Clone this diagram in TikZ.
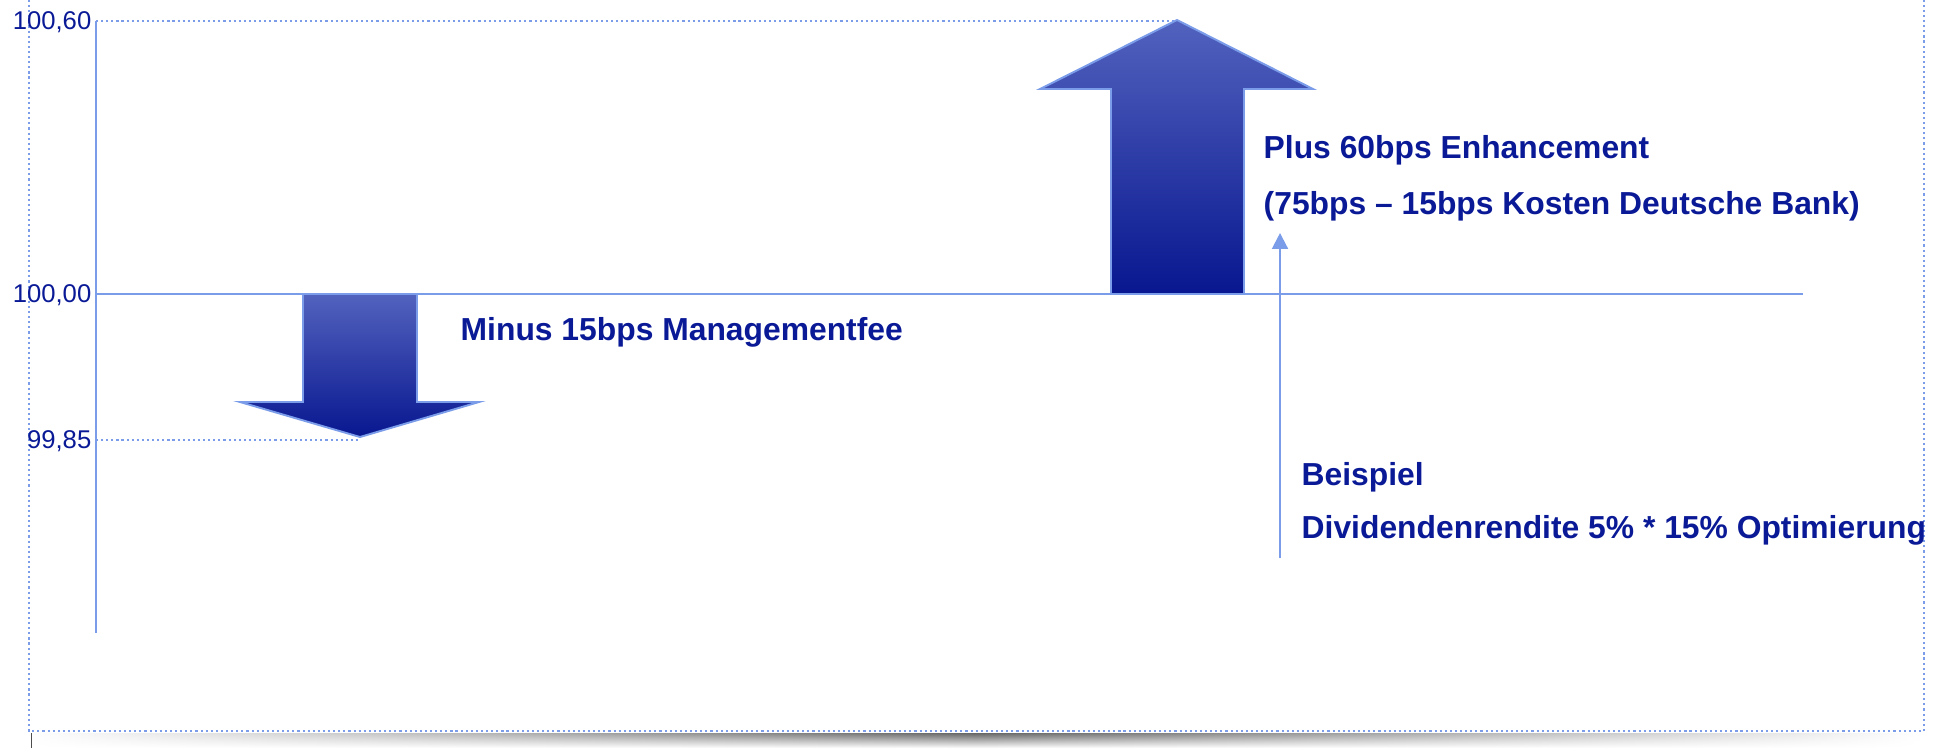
\documentclass[tikz,border=0pt]{standalone}
\usepackage{fontspec}
\setmainfont{Liberation Sans}
\usetikzlibrary{arrows.meta,fadings}
\definecolor{navy}{HTML}{0A1A96}
\definecolor{lineblue}{HTML}{7B9CE8}
\definecolor{arrowtop}{HTML}{5262BE}
\definecolor{arrowbot}{HTML}{08178F}
\tikzfading[name=shadowfade, top color=transparent!0, bottom color=transparent!100]

\begin{document}
\begin{tikzpicture}[x=0.01cm,y=-0.01cm,>=Stealth,
  rahmen/.style={lineblue,line width=0.6pt,dash pattern=on 0.6pt off 0.85pt},
  achse/.style={lineblue,line width=0.75pt},
  pfeil/.style={draw=lineblue,line width=0.55pt,top color=arrowtop,bottom color=arrowbot},
  tick/.style={anchor=east,inner sep=0pt,text=navy,font=\fontsize{7.3}{8}\selectfont},
  txt/.style={anchor=base west,inner sep=0pt,text=navy,font=\fontsize{9.05}{11}\selectfont\bfseries}]
  \useasboundingbox (0,0) rectangle (1949,748);
  \coordinate (O) at (96,294);
  \coordinate (AxTop) at (96,21);
  \coordinate (AxBot) at (96,633);
  \coordinate (BaseEnd) at (1803,294);
  \coordinate (UpTip) at (1177,21);
  \coordinate (DownTip) at (360,440);
  \coordinate (DownLvl) at (96,440);
  \coordinate (BspFoot) at (1280,558);
  \coordinate (BspTip) at (1280,233);
  % 影
  \shade[left color=white,right color=white,middle color=black!60,path fading=shadowfade]
    (29,733) rectangle (1924,748);
  \draw[black!70,line width=0.4pt] (31.5,733) -- (31.5,748);
  % 枠
  \draw[rahmen] (29,0) -- (29,731) -- (1924,731) -- (1924,0);
  % 軸
  \draw[rahmen] (AxTop) -- (UpTip);
  \draw[rahmen] (DownLvl) -- (DownTip);
  \draw[achse] (AxTop) -- (AxBot);
  \draw[achse] (O) -- (BaseEnd);
  \node[tick] (l10060) at (92,22) {100,60};
  \node[tick] (l10000) at (92,295) {100,00};
  \node[tick] (l9985) at (92,441) {99,85};
  % 矢印
  \draw[pfeil] (303,294) -- (417,294) -- (417,402) -- (479,402) -- (360,437)
    -- (240,402) -- (303,402) -- cycle;
  \draw[pfeil] (1111,294) -- (1111,89) -- (1040,89) -- (1177,20) -- (1313,89)
    -- (1244,89) -- (1244,294) -- cycle;
  \draw[->,lineblue,line width=0.6pt,>={Triangle[length=4.5pt,width=4.5pt]}] (BspFoot) -- (BspTip);
  % テキスト
  \node[txt] (tMinus) at (460,340) {Minus 15bps Managementfee};
  \node[txt] (tPlus) at (1263,158) {Plus 60bps Enhancement};
  \node[txt] (tKosten) at (1263,214) {(75bps – 15bps Kosten Deutsche Bank)};
  \node[txt] (tBsp) at (1301,485) {Beispiel};
  \node[txt] (tDiv) at (1301,538) {Dividendenrendite 5\% * 15\% Optimierung};
\end{tikzpicture}
\end{document}
